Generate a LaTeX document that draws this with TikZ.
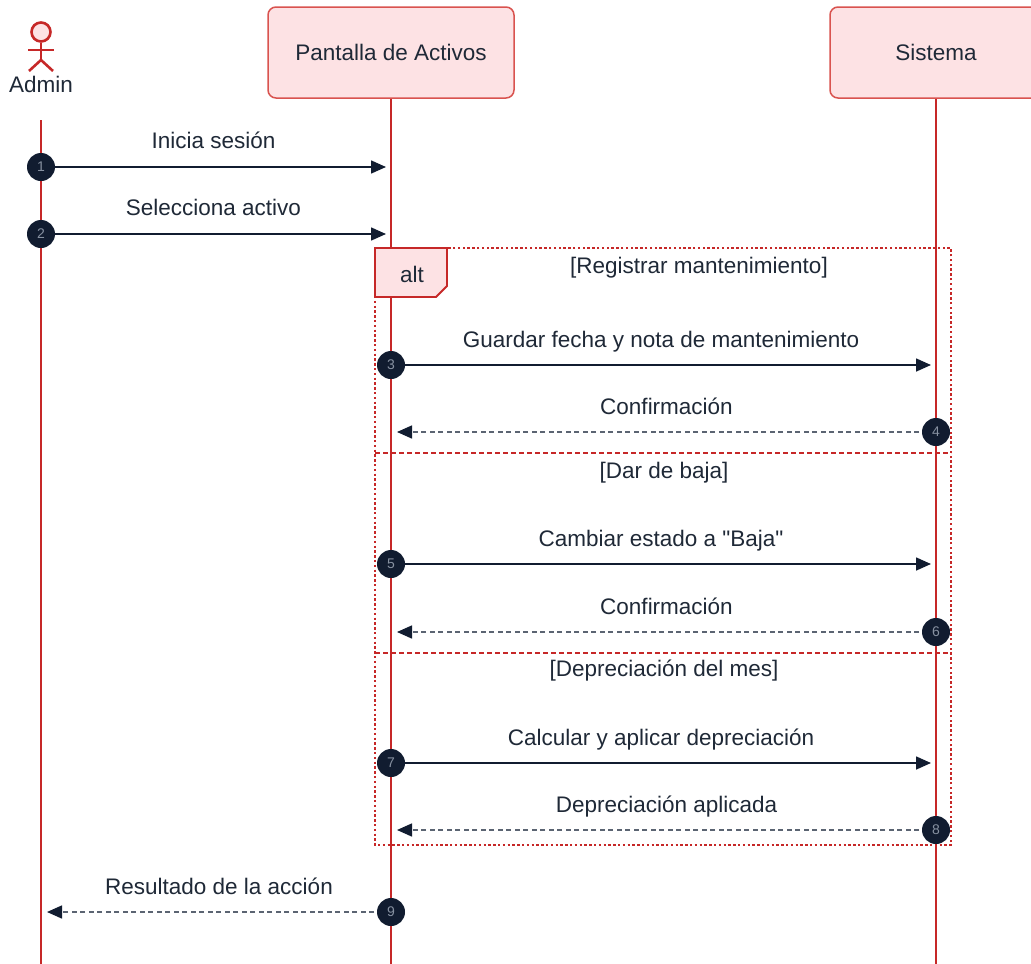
\documentclass[tikz,border=0pt]{standalone}
\usepackage{fontspec}
\setmainfont{Liberation Sans}
\newfontfamily\qfont{Liberation Sans}
\usetikzlibrary{arrows.meta}
\definecolor{lred}{HTML}{C62828}
\definecolor{bred}{HTML}{D9534F}
\definecolor{pfill}{HTML}{FDE2E4}
\definecolor{navy}{HTML}{111C30}
\definecolor{txt}{HTML}{1F2937}
\definecolor{dgray}{HTML}{5B6472}
\definecolor{ngray}{HTML}{8791A1}
\tikzset{
  participant/.style={draw=bred, fill=pfill, line width=1.5pt, rounded corners=8pt,
    minimum height=91pt, inner sep=0pt, text=txt, font=\fontsize{22.5}{27}\selectfont},
  lifeline/.style={draw=lred, line width=2.6pt},
  num/.style={circle, fill=navy, minimum size=28pt, inner sep=0pt, text=ngray,
    font=\fontsize{14}{16}\selectfont},
  msg/.style={draw=navy, line width=1.6pt, -{Triangle[length=15pt,width=13pt]}},
  ret/.style={draw=dgray, line width=1.5pt, dash pattern=on 5pt off 3.5pt,
    -{Triangle[length=15pt,width=13pt,fill=navy,color=navy]}},
  lbl/.style={text=txt, font=\fontsize{22.5}{27}\selectfont, anchor=base, inner sep=0pt},
  frame/.style={draw=lred, line width=2.8pt, dash pattern=on 2.4pt off 2.4pt},
  sep/.style={draw=lred, line width=2.6pt, dash pattern=on 5pt off 3pt},
  glbl/.style={text=txt, font=\fontsize{22.5}{27}\selectfont, inner sep=0pt},
}
\begin{document}
\begin{tikzpicture}[x=1pt,y=-1pt]
\useasboundingbox (0,0) rectangle (1031,964);
\fill[white] (0,0) rectangle (1031,964);

% participants
\node[participant, minimum width=246pt] (pa) at (391,52.5) {Pantalla de Activos};
\node[participant, minimum width=212pt] (si) at (936,52.5) {Sistema};
\coordinate (adtop) at (41,120);
\coordinate (adend) at (41,964);
\coordinate (paend) at (391,964);
\coordinate (siend) at (936,964);

% actor
\node[circle, draw=lred, fill=pfill, line width=2.6pt, minimum size=19pt, inner sep=0pt] (head) at (41,32) {};
\draw[lred, line width=2.6pt] (head.south) -- (41,60) coordinate (hip);
\draw[lred, line width=2.6pt] (28,50) -- (54,50);
\draw[lred, line width=2.6pt] (29,71) -- (hip) -- (53,71);
\node[text=txt, font=\fontsize{22.5}{27}\selectfont, anchor=base, inner sep=0pt] (adlabel) at (41,92) {Admin};

% lifelines
\draw[lifeline] (adtop) -- (adend);
\draw[lifeline] (pa.south) -- (paend);
\draw[lifeline] (si.south) -- (siend);

% alt frame
\draw[frame] (375,248) rectangle (951,845);
\draw[sep] (375,453) -- (951,453);
\draw[sep] (375,653) -- (951,653);
\filldraw[draw=lred, fill=pfill, line width=1.8pt] (375,248) -- (447,248) -- (447,286) -- (436,297) -- (375,297) -- cycle;
\node[glbl] (altlbl) at (412,274) {alt};
\node[glbl] (g1) at (699,268) {[Registrar mantenimiento]};
\node[glbl] (g2) at (664,473) {[Dar de baja]};
\node[glbl] (g3) at (664,671) {[Depreciación del mes]};

% messages
\coordinate (s1) at (41,167);  \coordinate (t1) at (386,167);
\coordinate (s2) at (41,234);  \coordinate (t2) at (386,234);
\coordinate (s3) at (391,365); \coordinate (t3) at (931,365);
\coordinate (s4) at (936,432); \coordinate (t4) at (397,432);
\coordinate (s5) at (391,564); \coordinate (t5) at (931,564);
\coordinate (s6) at (936,632); \coordinate (t6) at (397,632);
\coordinate (s7) at (391,763); \coordinate (t7) at (931,763);
\coordinate (s8) at (936,830); \coordinate (t8) at (397,830);
\coordinate (s9) at (391,912); \coordinate (t9) at (47,912);

\draw[msg] (s1) -- (t1) node[lbl, midway, yshift=19pt] {Inicia sesión};
\draw[msg] (s2) -- (t2) node[lbl, midway, yshift=19pt] {Selecciona activo};
\draw[msg] (s3) -- (t3) node[lbl, midway, yshift=18pt] {Guardar fecha y nota de mantenimiento};
\draw[ret] (s4) -- (t4) node[lbl, midway, yshift=18pt] {Confirmación};
\draw[msg] (s5) -- (t5) node[lbl, midway, yshift=18pt] {\qfont Cambiar estado a "Baja"};
\draw[ret] (s6) -- (t6) node[lbl, midway, yshift=18pt] {Confirmación};
\draw[msg] (s7) -- (t7) node[lbl, midway, yshift=18pt] {Calcular y aplicar depreciación};
\draw[ret] (s8) -- (t8) node[lbl, midway, yshift=18pt] {Depreciación aplicada};
\draw[ret] (s9) -- (t9) node[lbl, midway, yshift=18pt] {Resultado de la acción};

\node[num] (n1) at (s1) {1};
\node[num] (n2) at (s2) {2};
\node[num] (n3) at (s3) {3};
\node[num] (n4) at (s4) {4};
\node[num] (n5) at (s5) {5};
\node[num] (n6) at (s6) {6};
\node[num] (n7) at (s7) {7};
\node[num] (n8) at (s8) {8};
\node[num] (n9) at (s9) {9};
\end{tikzpicture}
\end{document}
